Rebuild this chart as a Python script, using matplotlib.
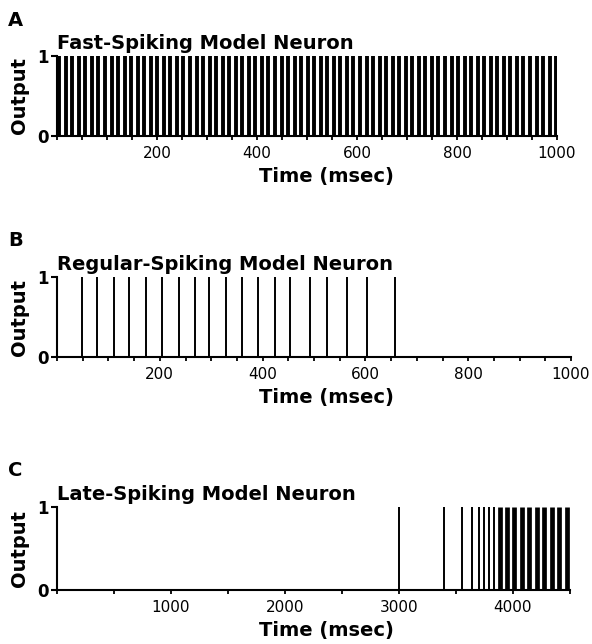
import matplotlib
matplotlib.use("Agg")
import matplotlib.pyplot as plt
from matplotlib.ticker import MultipleLocator, FixedLocator

plt.rcParams["font.family"] = ["DejaVu Sans"]

# ── data (spike times, ms) ───────────────────────────────────────────────────
fast_spikes = [4, 17, 30, 43, 56, 69, 82, 96, 109, 122, 135, 148, 161, 174, 187,
               200, 213, 226, 239, 252, 266, 279, 292, 305, 318, 331, 344, 357,
               370, 383, 396, 409, 422, 436, 449, 462, 475, 488, 501, 514, 527,
               540, 553, 566, 579, 592, 606, 619, 632, 645, 658, 671, 684, 697,
               710, 723, 736, 749, 762, 776, 789, 802, 815, 828, 841, 854, 867,
               880, 893, 906, 919, 932, 946, 959, 972, 985, 998]
regular_spikes = [49, 78, 111, 140, 173, 204, 237, 268, 296, 329, 360, 391, 424,
                  453, 492, 525, 564, 603, 658]
late_spikes_early = [3000, 3395, 3550, 3638, 3702, 3748, 3792, 3836]
late_spikes_burst = [3886, 3945, 4009, 4076, 4143, 4208, 4272, 4339, 4404, 4471]

titles = ["Fast-Spiking Model Neuron", "Regular-Spiking Model Neuron",
          "Late-Spiking Model Neuron"]
letters = ["A", "B", "C"]
xmax = [1000, 1000, 4500]
xlabel_ticks = [[200, 400, 600, 800, 1000], [200, 400, 600, 800, 1000],
                [1000, 2000, 3000, 4000]]
minor_step = [50, 50, 500]

W, H = 592, 644
fig = plt.figure(figsize=(W / 100, H / 100), dpi=100)

# axes boxes in pixels: left, right, top (y=1), bottom (y=0)
boxes = [(57, 557, 56, 136), (57, 571, 277, 357), (57, 570, 507, 590)]

axes = []
for i, (l, r, t, b) in enumerate(boxes):
    ax = fig.add_axes([l / W, 1 - b / H, (r - l) / W, (b - t) / H])
    axes.append(ax)
    ax.set_xlim(0, xmax[i])
    ax.set_ylim(0, 1)
    for s in ["top", "right"]:
        ax.spines[s].set_visible(False)
    for s in ["left", "bottom"]:
        ax.spines[s].set_linewidth(1.5)
    ax.set_yticks([0, 1])
    ax.set_yticklabels(["0", "1"], fontsize=12, fontweight="bold")
    ax.xaxis.set_major_locator(FixedLocator(xlabel_ticks[i]))
    ax.xaxis.set_minor_locator(MultipleLocator(minor_step[i]))
    ax.tick_params(axis="x", which="both", direction="out", length=3,
                   width=1.3, labelsize=11, pad=4)
    ax.tick_params(axis="y", direction="out", length=4, width=1.5, pad=2)
    ax.set_ylabel("Output", fontsize=14, fontweight="bold", labelpad=6)
    # x label: top of text ~31 px below the axis
    fig.text(326 / W, 1 - (b + 31) / H, "Time (msec)", fontsize=14,
             fontweight="bold", ha="center", va="top")
    ax.text(0, 1.04, titles[i], transform=ax.transAxes, fontsize=14,
            fontweight="bold", ha="left", va="bottom")
    fig.text(8 / W, 1 - (t - 36) / H, letters[i], fontsize=14,
             fontweight="bold", ha="left", va="center")

axes[0].vlines(fast_spikes, 0, 1, color="black", linewidth=2.8)
axes[1].vlines(regular_spikes, 0, 1, color="black", linewidth=1.4)
axes[2].vlines(late_spikes_early, 0, 1, color="black", linewidth=1.4)
axes[2].vlines(late_spikes_burst, 0, 1, color="black", linewidth=3.4)

fig.savefig("out.png", dpi=100)
